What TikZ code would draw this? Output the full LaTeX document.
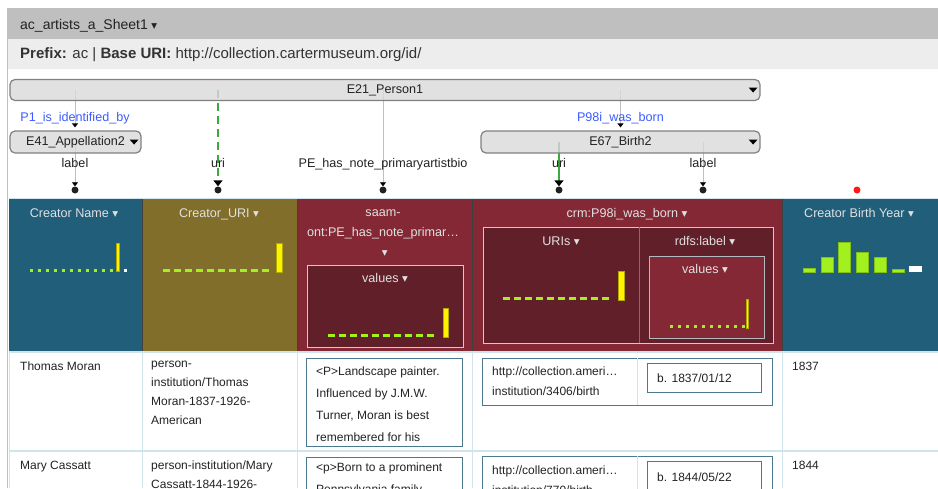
\documentclass[tikz,border=0pt]{standalone}
\usepackage{fontspec}
\setmainfont{Liberation Sans}
\newfontfamily\krsym{DejaVu Sans}
\usepackage{tikz}
\usetikzlibrary{arrows.meta,backgrounds,calc}
\definecolor{krTeal}{HTML}{205E7A}
\definecolor{krOlive}{HTML}{806E2A}
\definecolor{krRed}{HTML}{832834}
\definecolor{krDark}{HTML}{601F29}
\definecolor{krLime}{HTML}{A2F01E}
\definecolor{krYellow}{HTML}{FFF200}
\definecolor{krBlue}{HTML}{3B5BFF}
\definecolor{krGreen}{HTML}{3DAA3D}
\definecolor{krRule}{HTML}{D0E4EC}
\definecolor{krFrame}{HTML}{4B7A90}
\definecolor{krInk}{HTML}{222222}
\definecolor{krHead}{HTML}{E0E0E0}
\newcommand\ddcaret{\hspace{3.5pt}{\krsym\fontsize{11.5}{11.5}\selectfont ▾}}
\newcommand\menucaret[1]{\fill[black] ($(#1.east)+(-3,-2.5)$) -- ++(-9,0) -- ++(4.5,5) -- cycle;}
\tikzset{
  kr diagram/.style={x=1pt, y=-1pt, font=\fontsize{12}{19}\selectfont, text=krInk},
  kr text/.style={inner sep=0pt, text height=9pt, text depth=0pt},
  kr tree/.style={kr text, font=\fontsize{12.6}{14}\selectfont},
  kr class/.style={draw=black!50, fill=black!15, fill opacity=0.8, text opacity=1,
    line width=1.2pt, rounded corners=5pt, minimum height=22pt, inner sep=0pt,
    font=\fontsize{12.6}{14}\selectfont},
  kr link/.style={draw=black!25, line width=0.8pt, -{Triangle[width=6pt,length=4pt,color=black]}},
  kr uri/.style={draw=krGreen, line width=1.6pt, -{Triangle[width=9pt,length=6pt,color=black]}},
  kr pin/.style={circle, fill=krInk, inner sep=0pt, minimum size=7pt},
  kr linkname/.style={kr tree, text=krBlue},
  kr head/.style={kr text, text=krHead, font=\fontsize{12.6}{20}\selectfont},
  kr cell/.style={inner sep=0pt, anchor=north west, align=left},
  kr value/.style={draw=krFrame, line width=1pt},
  kr inner/.style={fill=krDark, draw=black!20, line width=1pt},
  kr bar/.style={fill=krLime, draw=krLime!80!black, line width=0.3pt},
  kr peak/.style={fill=krYellow, draw=krYellow!70!black, line width=0.4pt}
}
\begin{document}
\begin{tikzpicture}[kr diagram]
\useasboundingbox (0,0) rectangle (938,488);
\clip (0,0) rectangle (938,488);
% sheet title and prefix bars
\fill[black!25] (8,8) rectangle (938,39);
\fill[black!7] (8,39) rectangle (938,69);
\draw[black!25, line width=1pt] (7.5,8) -- (7.5,488);
\node[kr text, anchor=west, text height=10pt, font=\fontsize{14}{14}\selectfont] (sheet) at (20,24) {ac\_artists\_a\_Sheet1\ddcaret};
\node[kr text, anchor=west, text height=10.5pt, font=\fontsize{15}{15}\selectfont, text=black!80] (prefix) at (20,53)
  {\textbf{Prefix:} ac | \textbf{Base URI:} http://collection.cartermuseum.org/id/};

% semantic model
\node[kr class, minimum width=750pt, minimum height=21pt] (e21) at (385,90) {E21\_Person1};
\node[kr class, minimum width=131pt] (e41) at (75.5,142) {E41\_Appellation2\hspace{12pt}};
\node[kr class, minimum width=279pt] (e67) at (620.5,142) {E67\_Birth2};
\menucaret{e21}
\menucaret{e41}
\menucaret{e67}
\node[kr linkname] (p1) at (75,117) {P1\_is\_identified\_by};
\node[kr linkname] (p98) at (620.5,117) {P98i\_was\_born};
\node[kr tree] (lblName) at (75,163) {label};
\node[kr tree] (lblUri) at (218,163) {uri};
\node[kr tree] (lblNote) at (383,163) {PE\_has\_note\_primaryartistbio};
\node[kr tree] (lblBirthUri) at (559,163) {uri};
\node[kr tree] (lblBirth) at (703,163) {label};
\node[kr pin] (pinName) at (75,190) {};
\node[kr pin] (pinUri) at (218,190) {};
\node[kr pin] (pinNote) at (383,190) {};
\node[kr pin] (pinBirthUri) at (559,190) {};
\node[kr pin] (pinBirth) at (703,190) {};
\node[kr pin, fill=red!90!white] (pinYear) at (857,190) {};
\begin{scope}[on background layer]
\draw[kr link, shorten >=3pt] (e21.center -| p1) -- (e41.north -| p1);
\draw[kr link, shorten >=3pt] (e21.center -| e67) -- (e67.north);
\draw[kr link] (e41.center -| pinName) -- (pinName);
\draw[kr uri, dash pattern=on 8pt off 5pt] (e21.center -| pinUri) -- (pinUri);
\draw[kr link] (e21.center -| pinNote) -- (pinNote);
\draw[kr uri] (e67.center -| pinBirthUri) -- (pinBirthUri);
\draw[kr link] (e67.center -| pinBirth) -- (pinBirth);
\end{scope}

% column headers
\fill[krTeal] (9,198) rectangle (142,352);
\fill[krOlive] (142,198) rectangle (297,352);
\fill[krRed] (297,198) rectangle (782,352);
\fill[krTeal] (782,198) rectangle (938,352);
\foreach \x in {142,297,472,782}
  \draw[black!75, line width=0.6pt] (\x,198) -- (\x,352);
\draw[krRule, line width=1pt] (9,198.5) -- (938,198.5);
\filldraw[kr inner] (307,265) rectangle (463,347);
\filldraw[kr inner] (483,227) rectangle (773,343);
\draw[black!55, line width=0.8pt] (639,227) -- (639,343);
\filldraw[fill=krRed, draw=krRule!60!gray, line width=1pt] (649,256) rectangle (764,338);
\node[kr head] (hName) at (74,213) {Creator Name\ddcaret};
\node[kr head] (hUri) at (219,213) {Creator\_URI\ddcaret};
\node[kr head, align=center, text height=, anchor=north] (hNote) at (383,209.5)
  {saam-\\ont:PE\_has\_note\_primar…\\\ddcaret};
\node[kr head] (hNoteVal) at (385,278) {values\ddcaret};
\node[kr head] (hBirth) at (627,213) {crm:P98i\_was\_born\ddcaret};
\node[kr head] (hBirthUri) at (561,241) {URIs\ddcaret};
\node[kr head] (hBirthLbl) at (705,241) {rdfs:label\ddcaret};
\node[kr head] (hBirthVal) at (705,269) {values\ddcaret};
\node[kr head] (hYear) at (859,213) {Creator Birth Year\ddcaret};

% histograms
\foreach \i in {0,...,10}
  \fill[krLime] ({30+8*\i},268.5) rectangle ++(3,3);
\filldraw[kr peak] (116,243) rectangle (119.5,271.5);
\fill[white] (124,269) rectangle ++(3,3);
\foreach \i in {0,...,9}
  \fill[krLime] ({163+11*\i},268.5) rectangle ++(7,3);
\filldraw[kr peak] (276,243) rectangle (282,272);
\foreach \i in {0,...,9}
  \fill[krLime] ({328+11*\i},333.5) rectangle ++(7,3);
\filldraw[kr peak] (443,308) rectangle (448.5,337);
\foreach \i in {0,...,9}
  \fill[krLime] ({503+11*\i},296.5) rectangle ++(7,3);
\filldraw[kr peak] (618,271) rectangle (624,300);
\foreach \i in {0,...,9}
  \fill[krLime] ({670+8*\i},324.5) rectangle ++(3,3);
\filldraw[kr peak] (746,299) rectangle (748.5,328);
\foreach \x/\t in {803/268,821/257,838/242,856/252,874/257,892/269}
  \filldraw[kr bar] (\x,\t) rectangle ({\x+12},272);
\fill[white] (909,266) rectangle (922,272);

% data rows
\draw[krRule, line width=1.5pt] (9,352) -- (938,352);
\draw[krRule, line width=1.5pt] (9,451) -- (938,451);
\foreach \x in {9,142,297,472,782}
  \draw[krRule, line width=1pt] (\x,352) -- (\x,488);
\node[kr text, anchor=west] (name1) at (20,366) {Thomas Moran};
\node[kr cell] (uri1) at (151,360.5) {person-\\institution/Thomas\\Moran-1837-1926-\\American};
\draw[kr value] (306,358) rectangle (462,446);
\node[kr cell, font=\fontsize{12}{21.7}\selectfont] (note1) at (316,367)
  {<P>Landscape painter.\\Influenced by J.M.W.\\Turner, Moran is best\\remembered for his};
\draw[kr value] (482,358) rectangle (772,405);
\draw[krRule, line width=1pt] (637,358) -- (637,405);
\node[kr cell, font=\fontsize{12}{20}\selectfont] (birth1) at (492,367)
  {http://collection.ameri…\\institution/3406/birth};
\draw[kr value] (647,363) rectangle (761,392);
\node[kr text, anchor=west] (date1) at (657,377.5) {b. 1837/01/12};
\node[kr text, anchor=west] (year1) at (792,366) {1837};

\node[kr text, anchor=west] (name2) at (20,465) {Mary Cassatt};
\node[kr cell] (uri2) at (151,460.5) {person-institution/Mary\\Cassatt-1844-1926-\\American};
\draw[kr value] (306,457) rectangle (462,520);
\node[kr cell, font=\fontsize{12}{21.7}\selectfont] (note2) at (316,463)
  {<p>Born to a prominent\\Pennsylvania family};
\draw[kr value] (482,456) rectangle (772,520);
\draw[krRule, line width=1pt] (637,456) -- (637,520);
\node[kr cell, font=\fontsize{12}{20}\selectfont] (birth2) at (492,465.5)
  {http://collection.ameri…\\institution/770/birth};
\draw[kr value] (647,461) rectangle (761,500);
\node[kr text, anchor=west] (date2) at (657,476.5) {b. 1844/05/22};
\node[kr text, anchor=west] (year2) at (792,465) {1844};
\end{tikzpicture}
\end{document}
